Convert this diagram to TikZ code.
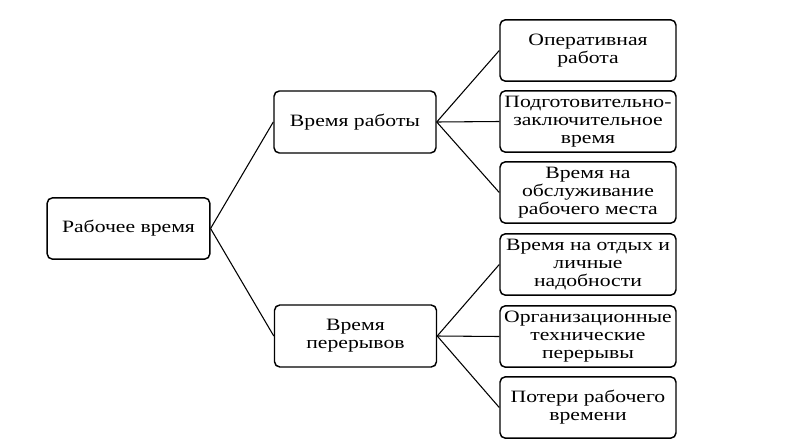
\documentclass[tikz,border=0pt]{standalone}
\usepackage{fontspec}
\setmainfont{Liberation Serif}
\newfontfamily\boxfont[FakeStretch=1.25]{Liberation Serif}
\usetikzlibrary{positioning}

\tikzset{
  box/.style={draw, rounded corners=4pt, line width=1.1pt, align=center,
    font=\boxfont\fontsize{13}{13.5}\selectfont, inner sep=1pt},
  rootbox/.style={box, minimum width=122pt, minimum height=46pt},
  midbox/.style={box, minimum width=121.5pt, minimum height=46.5pt},
  leafbox/.style={box, minimum width=132pt, minimum height=46pt},
  link/.style={line width=0.8pt}
}

\begin{document}
\begin{tikzpicture}[x=0.75pt, y=-0.75pt]
    \useasboundingbox (0,0) rectangle (804,447);

    \node[rootbox] (root) at (128.5,228.5) {Рабочее время};

    \node[midbox] (work) at (355,122) {Время работы};
    \node[midbox] (brk) at (355.5,336) {Время\\перерывов};

    \node[leafbox] (w1) at (588,50.5) {Оперативная\\работа};
    \node[leafbox] (w2) at (588,121.5) {Подготовительно-\\заключительное\\время};
    \node[leafbox] (w3) at (588,192.5) {Время на\\обслуживание\\рабочего места};

    \node[leafbox] (b1) at (588,264.5) {Время на отдых и\\личные\\надобности};
    \node[leafbox] (b2) at (588,336.5) {Организационные\\технические\\перерывы};
    \node[leafbox] (b3) at (588,407.5) {Потери рабочего\\времени};

    \draw[link] (root.east) -- (work.west);
    \draw[link] (root.east) -- (brk.west);
    \foreach \n in {w1,w2,w3}
        \draw[link] (work.east) -- (\n.west);
    \foreach \n in {b1,b2,b3}
        \draw[link] (brk.east) -- (\n.west);
\end{tikzpicture}
\end{document}
